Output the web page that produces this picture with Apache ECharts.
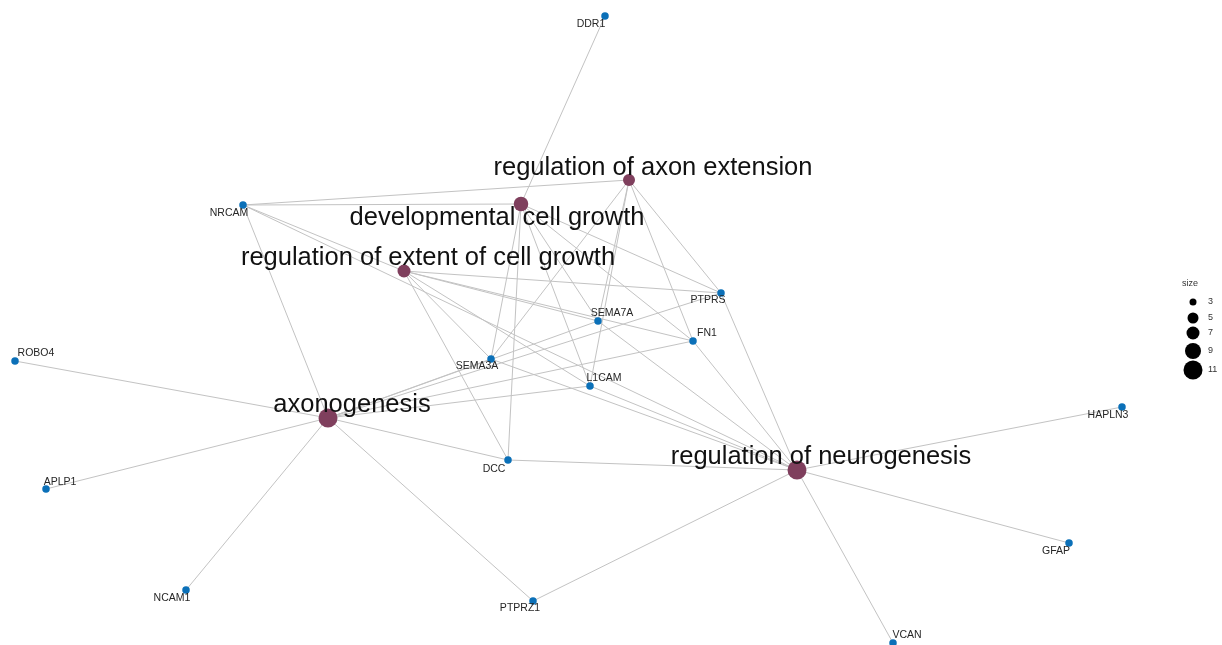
<!DOCTYPE html>
<html>
<head>
<meta charset="utf-8">
<script src="https://cdn.jsdelivr.net/npm/echarts@6/dist/echarts.min.js"></script>
<style>
  html, body { margin: 0; padding: 0; background: #ffffff; }
  #chart { width: 1222px; height: 645px; }
</style>
</head>
<body>
<div id="chart"></div>
<script>
// Enriched GO terms (category nodes) and their layout coordinates
const termNames = [
  'regulation of axon extension',
  'developmental cell growth',
  'regulation of extent of cell growth',
  'axonogenesis',
  'regulation of neurogenesis'
];
const termX = [629, 521, 404, 328, 797];
const termY = [180, 204, 271, 418, 470];

// Genes and their layout coordinates
const geneNames = ['DDR1', 'NRCAM', 'ROBO4', 'APLP1', 'NCAM1', 'PTPRZ1', 'VCAN', 'GFAP',
                   'HAPLN3', 'PTPRS', 'SEMA7A', 'FN1', 'SEMA3A', 'L1CAM', 'DCC'];
const geneX = [605, 243, 15, 46, 186, 533, 893, 1069, 1122, 721, 598, 693, 491, 590, 508];
const geneY = [16, 205, 361, 489, 590, 601, 643, 543, 407, 293, 321, 341, 359, 386, 460];

// Gene membership of each term
const axonExtensionGenes = ['NRCAM', 'SEMA3A', 'SEMA7A', 'L1CAM', 'FN1', 'PTPRS'];
const cellGrowthGenes = ['DDR1', 'NRCAM', 'SEMA3A', 'DCC', 'L1CAM', 'SEMA7A', 'FN1', 'PTPRS'];
const extentGrowthGenes = ['NRCAM', 'SEMA3A', 'SEMA7A', 'PTPRS', 'FN1', 'L1CAM', 'DCC'];
const axonogenesisGenes = ['ROBO4', 'APLP1', 'NCAM1', 'PTPRZ1', 'DCC', 'NRCAM', 'SEMA3A',
                           'SEMA7A', 'L1CAM', 'FN1', 'PTPRS'];
const neurogenesisGenes = ['HAPLN3', 'GFAP', 'VCAN', 'PTPRZ1', 'DCC', 'NRCAM', 'SEMA3A',
                           'L1CAM', 'SEMA7A', 'FN1', 'PTPRS'];
const termGenes = [axonExtensionGenes, cellGrowthGenes, extentGrowthGenes,
                   axonogenesisGenes, neurogenesisGenes];

// Size legend breaks
const sizeBreaks = [3, 5, 7, 9, 11];

// ---- styling ----
const sizeDiameters = [7, 11, 13, 16, 19];   // symbol diameter for each size break
const geneDiameter = 7.5;
const termColor = '#7f3f5d';
const geneColor = '#0b70b8';
const edgeColor = '#c3c3c3';
const fontFamily = 'Liberation Sans, Arial, Helvetica, sans-serif';

function diameterFor(n) {
  if (n <= sizeBreaks[0]) return sizeDiameters[0];
  for (let i = 1; i < sizeBreaks.length; i++) {
    if (n <= sizeBreaks[i]) {
      const t = (n - sizeBreaks[i - 1]) / (sizeBreaks[i] - sizeBreaks[i - 1]);
      return sizeDiameters[i - 1] + t * (sizeDiameters[i] - sizeDiameters[i - 1]);
    }
  }
  return sizeDiameters[sizeDiameters.length - 1];
}

// label offsets from node centre (repelled text positions)
const termLabelOffset = [[24, -12], [-24, 14], [24, -13], [24, -13], [24, -13]];
const geneLabelOffset = {
  DDR1: [-14, 8], NRCAM: [-14, 8], ROBO4: [21, -8], APLP1: [14, -7], NCAM1: [-14, 8],
  PTPRZ1: [-13, 7], VCAN: [14, -8], GFAP: [-13, 8], HAPLN3: [-14, 8], PTPRS: [-13, 7],
  SEMA7A: [14, -8], FN1: [14, -8], SEMA3A: [-14, 7], L1CAM: [14, -8], DCC: [-14, 9]
};

function labelAt(d, off, size, color) {
  return {
    show: true,
    position: [d / 2 + off[0], d / 2 + off[1]],
    align: 'center', verticalAlign: 'middle',
    fontSize: size, color: color, fontFamily: fontFamily
  };
}

const nodes = [];
termNames.forEach((name, i) => {
  const d = diameterFor(termGenes[i].length);
  nodes.push({
    name: name,
    value: [termX[i], termY[i]],
    symbolSize: d,
    itemStyle: { color: termColor },
    label: labelAt(d, termLabelOffset[i], 25.5, '#111111')
  });
});
geneNames.forEach((name, i) => {
  nodes.push({
    name: name,
    value: [geneX[i], geneY[i]],
    symbolSize: geneDiameter,
    itemStyle: { color: geneColor },
    label: labelAt(geneDiameter, geneLabelOffset[name], 10.5, '#262626')
  });
});

const links = [];
termNames.forEach((t, i) => {
  termGenes[i].forEach(g => links.push({ source: t, target: g }));
});

const chart = echarts.init(document.getElementById('chart'), null, { renderer: 'canvas' });

// size legend drawn at the right edge
const legendGraphics = [{
  type: 'text', left: 1182, top: 279,
  style: { text: 'size', fontSize: 9, fill: '#333', fontFamily: fontFamily }
}];
const legendY = [302, 318, 333, 351, 370];
sizeBreaks.forEach((s, i) => {
  legendGraphics.push({
    type: 'circle', shape: { cx: 1193, cy: legendY[i], r: sizeDiameters[i] / 2 },
    style: { fill: '#000' }
  });
  legendGraphics.push({
    type: 'text', x: 1208, y: legendY[i],
    style: { text: String(s), fontSize: 9, fill: '#333', verticalAlign: 'middle',
             fontFamily: fontFamily }
  });
});

chart.setOption({
  animation: false,
  backgroundColor: '#ffffff',
  grid: { left: 0, right: 0, top: 0, bottom: 0 },
  xAxis: { type: 'value', min: 0, max: 1222, show: false },
  yAxis: { type: 'value', min: 0, max: 645, inverse: true, show: false },
  graphic: legendGraphics,
  series: [{
    type: 'graph',
    coordinateSystem: 'cartesian2d',
    layout: 'none',
    data: nodes,
    links: links,
    symbol: 'circle',
    lineStyle: { color: edgeColor, width: 1, opacity: 1, curveness: 0 },
    emphasis: { disabled: true },
    labelLayout: { hideOverlap: false }
  }]
});
</script>
</body>
</html>
